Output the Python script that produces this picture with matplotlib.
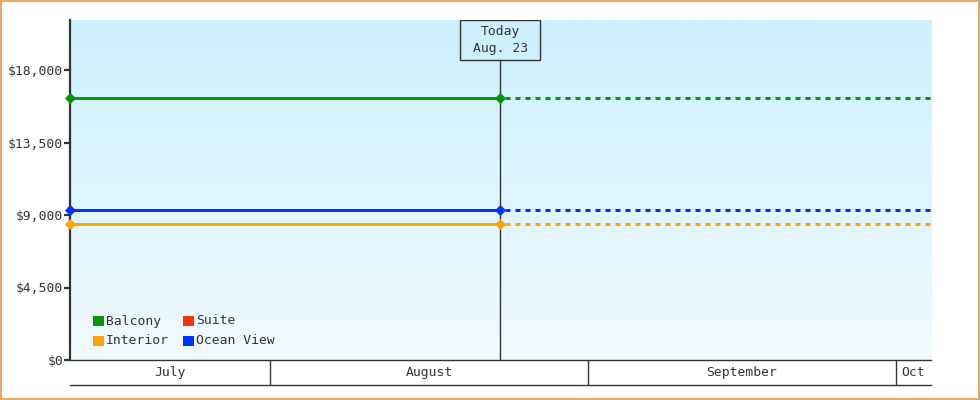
import numpy as np
import matplotlib.pyplot as plt
import matplotlib.dates as mdates
from matplotlib.patches import Rectangle
from matplotlib.ticker import FuncFormatter

# --- data ---
today = np.datetime64('2024-08-23T11:00')
window = np.timedelta64(42, 'D')
series_names = ['Balcony', 'Interior', 'Suite', 'Ocean View']
series_colors = ['#009900', '#ffa500', '#ff3300', '#0033ff']
# price at start of window and today (Suite has no data)
series_prices = [16260, 8440, None, 9310]
y_ticks = [0, 4500, 9000, 13500, 18000]
month_starts = ['2024-07-01', '2024-08-01', '2024-09-01', '2024-10-01', '2024-11-01']
month_labels = ['July', 'August', 'September', 'Oct']


def to_num(d):
    return mdates.date2num(d.astype('datetime64[s]').astype(object))


x_start = to_num(today - window)
x_today = to_num(today)
x_end = to_num(today + window)
x_months = [to_num(np.datetime64(m)) for m in month_starts]

plt.rcParams['font.family'] = 'DejaVu Sans Mono'
plt.rcParams['lines.scale_dashes'] = False
ink = '#333333'
fs = 9.4

W, H = 980, 400
L, R, T, B = 70, 931, 20, 360   # plot area in pixels
fig = plt.figure(figsize=(W / 100, H / 100), dpi=100)
ax = fig.add_axes([L / W, 1 - B / H, (R - L) / W, (B - T) / H])
ymax = (B - T) / 290 * 18000


def ax_xy(px, py):
    # pixel position -> axes fraction
    return (px - L) / (R - L), (B - py) / (B - T)


# gradient background
grad = np.linspace(0, 1, 256)[:, None, None]
top_c = np.array([204, 240, 252]) / 255
bot_c = np.array([241, 250, 255]) / 255
img = top_c + (bot_c - top_c) * grad
ax.imshow(img, extent=[0, 1, 0, 1], transform=ax.transAxes, aspect='auto', zorder=0)
ax.set_xlim(x_start, x_end)
ax.set_ylim(0, ymax)

lw = 3 * 0.72
for name, color, price in zip(series_names, series_colors, series_prices):
    if price is None:
        continue
    ax.plot([x_start, x_today], [price, price], color=color, lw=lw,
            solid_capstyle='butt', zorder=3)
    ax.plot([x_today, x_end], [price, price], color=color, lw=lw,
            linestyle=(3.6, (3.6, 3.6)), zorder=3)
    ax.plot([x_start, x_today], [price, price], ls='', marker='D', ms=4.8, mew=0.6,
            color=color, zorder=4, clip_on=False)

# today marker
bx0, by0 = ax_xy(460, 60)
bx1, by1 = ax_xy(540, 20)
ax.axvline(x_today, ymin=0, ymax=by0, color=ink, lw=1, zorder=2)
ax.add_patch(Rectangle((bx0, by0), bx1 - bx0, by1 - by0, transform=ax.transAxes,
                       fill=False, ec=ink, lw=1, zorder=5))
ax.text(0.5, (by0 + by1) / 2, 'Today\nAug. 23', transform=ax.transAxes, ha='center',
        va='center', fontsize=fs, color=ink, linespacing=1.45, zorder=5)

# axes styling
for s in ['top', 'right']:
    ax.spines[s].set_visible(False)
ax.spines['left'].set_linewidth(1.6)
ax.spines['left'].set_color(ink)
ax.spines['bottom'].set_linewidth(1)
ax.spines['bottom'].set_color(ink)
ax.set_yticks(y_ticks)
ax.yaxis.set_major_formatter(FuncFormatter(lambda v, p: f'${v:,.0f}'))
ax.tick_params(axis='y', length=4, width=1.6, color=ink, labelcolor=ink, labelsize=fs, pad=1)
ax.set_xticks([])

# legend (2 columns, column-wise order)
for i, (name, color) in enumerate(zip(series_names, series_colors)):
    col, row = divmod(i, 2)
    sx = 93 + col * 90
    sy = 321 + row * 20
    x0, y0 = ax_xy(sx, sy + 5)
    x1, y1 = ax_xy(sx + 11, sy - 5)
    ax.add_patch(Rectangle((x0, y0), x1 - x0, y1 - y0, transform=ax.transAxes,
                           color=color, lw=0, zorder=5))
    tx, ty = ax_xy(sx + 13, sy)
    ax.text(tx, ty, name, transform=ax.transAxes, ha='left', va='center',
            fontsize=fs, color=ink, zorder=5)

# month band
bx = fig.add_axes([L / W, 15 / H, (R - L) / W, 25 / H])
bx.set_xlim(x_start, x_end)
bx.set_ylim(0, 1)
bx.patch.set_alpha(0)
for s in ['top', 'right', 'left']:
    bx.spines[s].set_visible(False)
bx.spines['bottom'].set_color(ink)
bx.spines['bottom'].set_linewidth(1)
bx.set_xticks([])
bx.set_yticks([])
for i, label in enumerate(month_labels):
    a = max(x_months[i], x_start)
    b = min(x_months[i + 1], x_end)
    if x_start < x_months[i] < x_end:
        bx.axvline(x_months[i], color=ink, lw=1)
    bx.text((a + b) / 2, 0.5, label, ha='center', va='center', fontsize=fs, color=ink)

# outer border
fig.patches.append(Rectangle((0.5 / W, 1 / H), 978 / W, 398.5 / H,
                             transform=fig.transFigure, fill=False, ec='#eaa662', lw=1.4))

fig.savefig('out.png', dpi=100)
